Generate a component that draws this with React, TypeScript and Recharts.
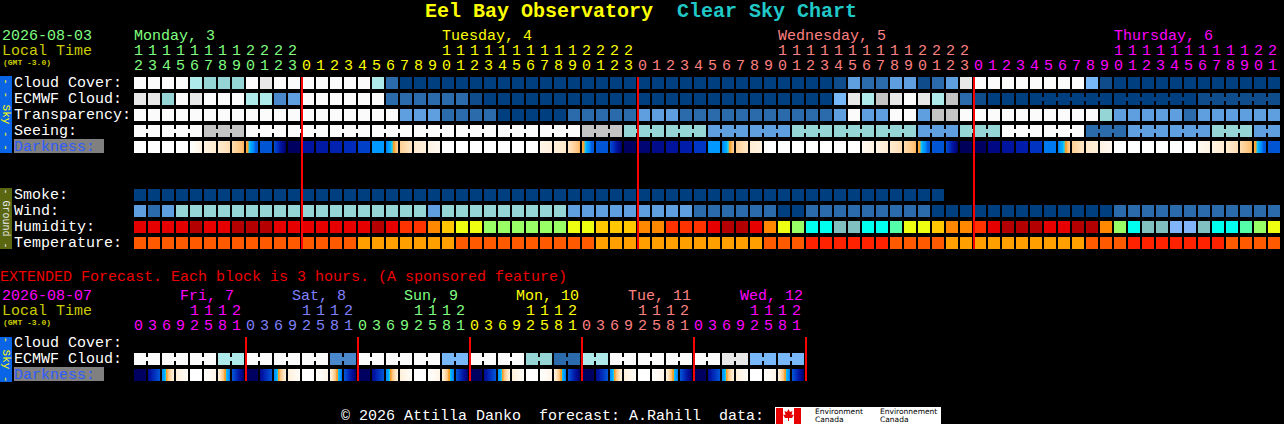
import { Scatter, ScatterChart, XAxis, YAxis } from "recharts";

const FONT = '"Liberation Mono", "DejaVu Sans Mono", monospace';

// ---- colour scales (CSC style) ----
// sky scale: 0 = clear / excellent (dark blue) ... 10 = overcast / poor (white)
const SKY_COLORS = [
  "#003f7f",
  "#0f4c8c",
  "#2b6aab",
  "#4a88cb",
  "#5f9fdf",
  "#78b8f8",
  "#96d5d5",
  "#aeeaea",
  "#c4c4c4",
  "#e8e8e8",
  "#fbfbfb",
];
const HUMIDITY_COLORS = [
  "#b40000", "#e60000", "#ff3300", "#ff8800", "#ffc800", "#eeff11",
  "#99ff66", "#55ffaa", "#00ffee", "#80c0c0", "#82b4fa",
];
const TEMPERATURE_COLORS = ["#ff2200", "#ff5a00", "#ffa000"];

// darkness: 0 = daylight, ~3.5 = sunset, 10+ = full dark
const DARK_STOPS: [number, string][] = [
  [0, "#ffffff"],
  [1, "#fff3e2"],
  [2, "#ffe2bc"],
  [3, "#ffc27a"],
  [3.4, "#f5a535"],
  [3.8, "#f09a20"],
  [3.85, "#20d0f0"],
  [4.3, "#00b0ff"],
  [5, "#0090ff"],
  [5.6, "#0060e0"],
  [6.5, "#0050d0"],
  [7.5, "#0030c0"],
  [8.5, "#0014a0"],
  [9.5, "#000880"],
  [10, "#000060"],
  [11, "#000040"],
];

// ---- main forecast (1 block = 1 hour) ----
const mainDays = [
  { name: "Monday, 3", color: "#80ff80", firstHour: 12, hours: 12 },
  { name: "Tuesday, 4", color: "#ffff00", firstHour: 0, hours: 24 },
  { name: "Wednesday, 5", color: "#ff8080", firstHour: 0, hours: 24 },
  { name: "Thursday, 6", color: "#ff00ff", firstHour: 0, hours: 22 },
];

const mainRowLabels = [
  "Cloud Cover:", "ECMWF Cloud:", "Transparency:", "Seeing:", "Darkness:",
  "Smoke:", "Wind:", "Humidity:", "Temperature:",
];
const mainRowSlots = [0, 1, 2, 3, 4, 7, 8, 9, 10];

const cloudCover = [
  10, 10, 10, 10, 7, 6, 6, 6, 10, 9, 10, 10,
  10, 10, 10, 10, 10, 7, 2, 0, 0, 0, 0, 0,
  0, 0, 0, 0, 0, 0, 0, 0, 0, 0, 0, 0,
  0, 0, 0, 0, 0, 0, 0, 0, 0, 0, 0, 0,
  0, 0, 1, 4, 2, 2, 4, 4, 1, 2, 4, 9,
  10, 10, 10, 10, 10, 10, 10, 10, 5, 1, 0, 0,
  0, 0, 0, 0, 0, 0, 0, 0, 0, 0,
];
const ecmwfCloud = [
  9, 9, 6, 10, 9, 10, 10, 10, 7, 7, 3, 4,
  10, 10, 10, 10, 10, 10, 2, 2, 2, 2, 2, 2,
  1, 0, 0, 0, 0, 0, 0, 0, 0, 0, 0, 0,
  0, 0, 0, 0, 0, 0, 0, 0, 0, 0, 0, 0,
  0, 0, 5, 9, 7, 8, 9, 10, 9, 7, 8, 2,
  1, 0, 0, 0, 0, 0, 0, 0, 0, 0, 0, 0,
  0, 0, 0, 0, 1, 1, 1, 1, 1, 1,
];
const transparency = [
  10, 10, 10, 10, 10, 10, 10, 10, 10, 10, 10, 10,
  10, 10, 10, 10, 10, 10, 10, 4, 4, 4, 2, 2,
  2, 2, 0, 0, 0, 0, 0, 2, 2, 2, 2, 2,
  4, 4, 4, 2, 2, 2, 2, 2, 2, 2, 2, 2,
  2, 2, 4, 10, 4, 4, 10, 10, 4, 8, 8, 10,
  10, 10, 10, 10, 10, 10, 10, 10, 10, 6, 4, 4,
  4, 4, 4, 2, 4, 4, 4, 4, 4, 4,
];
const seeing = [
  10, 10, 10, 10, 10, 8, 8, 8, 10, 10, 10, 10,
  10, 10, 10, 10, 10, 10, 10, 10, 10, 10, 10, 10,
  10, 10, 10, 10, 10, 10, 10, 10, 8, 8, 8, 6,
  6, 6, 6, 6, 6, 4, 4, 4, 4, 4, 4, 6,
  6, 6, 6, 6, 6, 6, 6, 6, 4, 4, 4, 6,
  6, 6, 10, 10, 10, 10, 10, 10, 2, 2, 2, 4,
  4, 4, 4, 4, 4, 6, 6, 6, 4, 4,
];
// single number = even shade for the hour, pair = shade at start / end of the hour
const darkness: (number | [number, number])[] = [
  0, 0, 0, 0, [0, 1], [1, 1.5], [1.5, 2.2], [2.2, 3.2], [3.2, 6.2], 6.2, [6.5, 10], 10,
  8.5, 8.3, 8.0, 7.7, 7.0, 4.8, [5.3, 2.6], [2.6, 1.8], [1.6, 1.1], [1, 0.5], 0, 0,
  0, 0, 0, 0, 0, [0.8, 1.2], [1.2, 1.6], [1.8, 3.2], [3.2, 6.2], 6.2, [6.5, 10], 10,
  9.7, 9.2, 8.6, 8.2, 7.3, 4.8, [5.3, 2.6], [2.6, 1.8], [1.4, 1], 0, 0, 0,
  0, 0, 0, 0, [0.5, 1], [1, 1.4], [1.5, 2.2], [2.2, 3.2], [3.2, 6.2], 6.2, [6.5, 10], 10.2,
  10, 9.4, 8.6, 8.2, 7.4, 5.3, [5.3, 2.6], [2.6, 1.8], [1.6, 1.2], [1, 0.5], 0, 0,
  0, 0, 0, 0, [0.5, 1], [1, 1.4], [1.5, 2.2], [2.2, 3.2], [3.2, 6.2], 6.2,
];
const smoke = [
  0, 0, 0, 0, 0, 0, 0, 0, 0, 0, 0, 0,
  0, 0, 0, 0, 0, 0, 0, 0, 0, 0, 0, 0,
  0, 0, 0, 0, 0, 0, 0, 0, 0, 0, 0, 0,
  0, 0, 0, 0, 0, 0, 0, 0, 0, 0, 0, 0,
  0, 0, 0, 0, 0, 0, 0, 0, 0, 0,
];
const wind = [
  4, 2, 4, 6, 6, 6, 6, 6, 6, 6, 6, 6,
  6, 6, 6, 6, 6, 6, 6, 6, 6, 4, 6, 6,
  6, 6, 6, 6, 6, 6, 6, 4, 4, 4, 4, 4,
  4, 4, 4, 4, 2, 2, 2, 2, 2, 2, 0, 0,
  2, 2, 2, 2, 2, 2, 2, 2, 2, 0, 0, 0,
  0, 0, 0, 0, 0, 0, 0, 0, 0, 0, 2, 2,
  2, 2, 2, 2, 2, 2, 2, 2, 2, 2,
];
const humidity = [
  1, 1, 1, 1, 0, 1, 1, 0, 0, 0, 1, 1,
  1, 1, 1, 1, 1, 0, 1, 2, 2, 3, 4, 5,
  5, 6, 6, 6, 6, 6, 6, 5, 5, 4, 4, 4,
  3, 3, 2, 2, 2, 1, 0, 0, 1, 3, 5, 6,
  8, 8, 9, 9, 8, 8, 7, 5, 5, 4, 3, 3,
  2, 1, 0, 0, 0, 1, 1, 0, 0, 3, 6, 8,
  9, 9, 10, 10, 9, 8, 8, 7, 6, 5,
];
const temperature = [
  1, 1, 1, 1, 1, 1, 1, 1, 1, 1, 1, 1,
  1, 1, 1, 1, 2, 2, 2, 2, 2, 2, 2, 1,
  1, 1, 1, 1, 1, 1, 1, 1, 1, 2, 2, 2,
  2, 2, 2, 2, 2, 2, 2, 2, 2, 1, 1, 1,
  0, 0, 0, 0, 0, 0, 1, 1, 1, 1, 2, 2,
  2, 2, 2, 2, 2, 2, 2, 2, 1, 1, 1, 0,
  0, 0, 0, 0, 0, 0, 1, 1, 1, 1,
];

// ---- extended forecast (1 block = 3 hours) ----
const extDays = [
  { name: "Fri, 7", color: "#ff00ff" },
  { name: "Sat, 8", color: "#8080ff" },
  { name: "Sun, 9", color: "#80ff80" },
  { name: "Mon, 10", color: "#ffff00" },
  { name: "Tue, 11", color: "#ff8080" },
  { name: "Wed, 12", color: "#ff00ff" },
];
const extHours = [0, 3, 6, 9, 12, 15, 18, 21];
const extRowLabels = ["Cloud Cover:", "ECMWF Cloud:", "Darkness:"];

const extEcmwf = [
  10, 10, 10, 10, 10, 10, 7, 7,
  10, 10, 10, 10, 10, 10, 3, 3,
  10, 10, 10, 10, 10, 10, 5, 5,
  10, 10, 10, 10, 6, 6, 2, 2,
  7, 7, 10, 10, 10, 10, 10, 10,
  10, 10, 9, 9, 5, 5, 5, 5,
];
const extDarkness: (number | [number, number])[] = [
  10, [9, 6.2], [5.2, 1.0], [1.2, 0.2], 0, [0, 0.8], [1.0, 5.4], [6.2, 10],
  10, [9, 6.2], [5.2, 1.0], [1.2, 0.2], 0, [0, 0.8], [1.0, 5.4], [6.2, 10],
  10, [9, 6.2], [5.2, 1.0], [1.2, 0.2], 0, [0, 0.8], [1.0, 5.4], [6.2, 10],
  10, [9, 6.2], [5.2, 1.0], [1.2, 0.2], 0, [0, 0.8], [1.0, 5.4], [6.2, 10],
  10, [9, 6.2], [5.2, 1.0], [1.2, 0.2], 0, [0, 0.8], [1.0, 5.4], [6.2, 10],
  10, [9, 6.2], [5.2, 1.0], [1.2, 0.2], 0, [0, 0.8], [1.0, 5.4], [6.2, 10],
];

// ---- helpers ----
type Col = { hour: number; day: number; label: boolean };
type Day = { name: string; color: string };

const mainCols: Col[] = [];
mainDays.forEach((d, di) => {
  for (let h = d.firstHour; h < d.firstHour + d.hours; h++) {
    mainCols.push({ hour: h, day: di, label: h === Math.max(d.firstHour, 10) });
  }
});
const mainMidnights: number[] = [];
mainDays.reduce((acc, d, i) => {
  if (i > 0) mainMidnights.push(acc);
  return acc + d.hours;
}, 0);

const extCols: Col[] = [];
extDays.forEach((_, di) => extHours.forEach((h, hi) => extCols.push({ hour: h, day: di, label: hi === 0 })));
const extMidnights = extDays.map((_, i) => (i + 1) * extHours.length);

const hexToRgb = (h: string) => {
  const n = parseInt(h.slice(1), 16);
  return [(n >> 16) & 255, (n >> 8) & 255, n & 255];
};

function darkColor(t: number) {
  if (t <= DARK_STOPS[0][0]) return DARK_STOPS[0][1];
  for (let i = 1; i < DARK_STOPS.length; i++) {
    if (t <= DARK_STOPS[i][0]) {
      const [t0, c0] = DARK_STOPS[i - 1];
      const [t1, c1] = DARK_STOPS[i];
      const f = (t - t0) / (t1 - t0);
      const a = hexToRgb(c0);
      const b = hexToRgb(c1);
      return `rgb(${a.map((v, k) => Math.round(v + (b[k] - v) * f)).join(",")})`;
    }
  }
  return DARK_STOPS[DARK_STOPS.length - 1][1];
}

const toPoints = (values: number[], row: number, link?: (c: number) => boolean) =>
  values.map((v, i) => ({
    x: i,
    y: row,
    v,
    link: !!link && i < values.length - 1 && values[i + 1] === v && link(i),
  }));

const toDarkPoints = (values: (number | [number, number])[], row: number) =>
  values.map((d, i) => ({ x: i, y: row, v: Array.isArray(d) ? d : [d, d] }));

// seeing comes in 3-hour groups, late ECMWF in 6-hour groups
const seeingLink = (c: number) => ((c - 2) % 3 + 3) % 3 !== 2;
const ecmwfLink = (c: number) => c >= 64 && (c - 64) % 6 !== 5;
const pairLink = (c: number) => c % 2 === 0;

const blockShape = (colors: string[]) => (p: any) => {
  const fill = colors[p.payload.v];
  return (
    <g>
      <rect x={p.cx} y={p.cy} width={12} height={12} fill={fill} />
      {p.payload.link && <rect x={p.cx + 12} y={p.cy + 4} width={2} height={4} fill={fill} />}
    </g>
  );
};

const darkShape = (prefix: string) => (p: any) => {
  const [a, b] = p.payload.v as [number, number];
  if (a === b) return <rect x={p.cx} y={p.cy} width={12} height={12} fill={darkColor(a)} />;
  const id = `${prefix}${p.payload.x}`;
  const lo = Math.min(a, b);
  const hi = Math.max(a, b);
  const inner = DARK_STOPS.map((s) => s[0]).filter((t) => t > lo && t < hi);
  const stops = [a, ...inner, b]
    .map((t) => ({ off: (t - a) / (b - a), col: darkColor(t) }))
    .sort((m, n) => m.off - n.off);
  return (
    <g>
      <defs>
        <linearGradient id={id} x1="0" y1="0" x2="1" y2="0">
          {stops.map((s, k) => (
            <stop key={k} offset={s.off} stopColor={s.col} />
          ))}
        </linearGradient>
      </defs>
      <rect x={p.cx} y={p.cy} width={12} height={12} fill={`url(#${id})`} />
    </g>
  );
};

// red midnight marker, drawn from the top row down through the plot
const midnightShape = (height: number) => (p: any) => (
  <rect x={p.cx - 1} y={p.cy} width={2} height={height} fill="#ff0000" />
);

const hourTick = (cols: Col[], days: Day[], labelDx: number) => (p: any) => {
  const c = cols[p.payload.value];
  if (!c) return <g />;
  const day = days[c.day];
  return (
    <g fontFamily={FONT} fontSize={15} fill={day.color}>
      {c.label && (
        <text x={p.x + labelDx} y={40}>
          {day.name}
        </text>
      )}
      {c.hour >= 10 && (
        <text x={p.x} y={55}>
          {Math.floor(c.hour / 10)}
        </text>
      )}
      <text x={p.x} y={70}>
        {c.hour % 10}
      </text>
    </g>
  );
};

const rowTick = (labels: string[], slots: number[]) => (p: any) => {
  const label = labels[slots.indexOf(p.payload.value)];
  const top = p.y;
  const dark = label === "Darkness:";
  return (
    <g fontFamily={FONT} fontSize={15}>
      {dark && <rect x={14} y={top - 2} width={90} height={14} fill="#808080" />}
      <text x={14} y={top + 10} fill={dark ? "#2f5cff" : "#ffffff"}>
        {label}
      </text>
    </g>
  );
};

function MainChart() {
  const blocks = [
    { key: "cloud", data: toPoints(cloudCover, 0), colors: SKY_COLORS },
    { key: "ecmwf", data: toPoints(ecmwfCloud, 1, ecmwfLink), colors: SKY_COLORS },
    { key: "transp", data: toPoints(transparency, 2), colors: SKY_COLORS },
    { key: "seeing", data: toPoints(seeing, 3, seeingLink), colors: SKY_COLORS },
    { key: "smoke", data: toPoints(smoke, 7), colors: SKY_COLORS },
    { key: "wind", data: toPoints(wind, 8), colors: SKY_COLORS },
    { key: "humidity", data: toPoints(humidity, 9), colors: HUMIDITY_COLORS },
    { key: "temp", data: toPoints(temperature, 10), colors: TEMPERATURE_COLORS },
  ];
  return (
    <ScatterChart width={1284} height={252} margin={{ top: 0, right: 2, bottom: 3, left: 0 }}>
      <XAxis
        type="number"
        dataKey="x"
        orientation="top"
        domain={[0, mainCols.length]}
        ticks={mainCols.map((_, i) => i)}
        interval={0}
        height={77}
        axisLine={false}
        tickLine={false}
        tick={hourTick(mainCols, mainDays, 0)}
      />
      <YAxis
        type="number"
        dataKey="y"
        domain={[0, 10.75]}
        reversed
        ticks={mainRowSlots}
        interval={0}
        width={134}
        axisLine={false}
        tickLine={false}
        tick={rowTick(mainRowLabels, mainRowSlots)}
      />
      {blocks.map((b) => (
        <Scatter key={b.key} data={b.data} shape={blockShape(b.colors)} isAnimationActive={false} />
      ))}
      <Scatter data={toDarkPoints(darkness, 4)} shape={darkShape("dkm")} isAnimationActive={false} />
      <Scatter
        data={mainMidnights.map((x) => ({ x, y: 0 }))}
        shape={midnightShape(172)}
        isAnimationActive={false}
      />
    </ScatterChart>
  );
}

function ExtendedChart() {
  return (
    <ScatterChart width={1284} height={164} margin={{ top: 0, right: 478, bottom: 43, left: 0 }}>
      <XAxis
        type="number"
        dataKey="x"
        orientation="top"
        domain={[0, extCols.length]}
        ticks={extCols.map((_, i) => i)}
        interval={0}
        height={77}
        axisLine={false}
        tickLine={false}
        tick={hourTick(extCols, extDays, 46)}
      />
      <YAxis
        type="number"
        dataKey="y"
        domain={[0, 2.75]}
        reversed
        ticks={[0, 1, 2]}
        interval={0}
        width={134}
        axisLine={false}
        tickLine={false}
        tick={rowTick(extRowLabels, [0, 1, 2])}
      />
      <Scatter data={toPoints(extEcmwf, 1, pairLink)} shape={blockShape(SKY_COLORS)} isAnimationActive={false} />
      <Scatter data={toDarkPoints(extDarkness, 2)} shape={darkShape("dke")} isAnimationActive={false} />
      <Scatter
        data={extMidnights.map((x) => ({ x, y: 0 }))}
        shape={midnightShape(44)}
        isAnimationActive={false}
      />
    </ScatterChart>
  );
}

function SideBar({ y, h, fill, color, text, size }: { y: number; h: number; fill: string; color: string; text: string; size: number }) {
  return (
    <g>
      <rect x={0} y={y} width={12} height={h} fill={fill} />
      <text
        transform={`translate(2.5,${y + h / 2}) rotate(90)`}
        textAnchor="middle"
        fontFamily={FONT}
        fontSize={size}
        fill={color}
        xmlSpace="preserve"
      >
        {text}
      </text>
    </g>
  );
}

function Overlay() {
  return (
    <svg width={1284} height={424} style={{ position: "absolute", left: 0, top: 0, pointerEvents: "none" }}>
      <g fontFamily={FONT} fontSize={20} fontWeight="bold">
        <text x={425} y={17} fill="#ffff00">
          Eel Bay Observatory
        </text>
        <text x={677} y={17} fill="#20c8c8">
          Clear Sky Chart
        </text>
      </g>

      <g fontFamily={FONT} fontSize={15}>
        <text x={2} y={40} fill="#80ff80">2026-08-03</text>
        <text x={2} y={55} fill="#cccc00">Local Time</text>
        <text x={0} y={281} fill="#ee0000">EXTENDED Forecast. Each block is 3 hours. (A sponsored feature)</text>
        <text x={2} y={300} fill="#ff00ff">2026-08-07</text>
        <text x={2} y={315} fill="#cccc00">Local Time</text>
        <g fill="#ffffff">
          <text x={341} y={420}>© 2026 Attilla Danko</text>
          <text x={539} y={420}>forecast: A.Rahill</text>
          <text x={719} y={420}>data:</text>
        </g>
      </g>
      <g fontFamily={FONT} fontSize={8} fontWeight="bold" fill="#cccc00">
        <text x={3} y={64.5}>(GMT -3.0)</text>
        <text x={3} y={324.5}>(GMT -3.0)</text>
      </g>

      <SideBar y={76} h={77} fill="#0a64e6" color="#ffff00" text="- - Sky - -" size={11} />
      <SideBar y={188} h={61} fill="#5a6610" color="#e8e8e8" text="- Ground -" size={10} />
      <SideBar y={337} h={45} fill="#0a64e6" color="#ffff00" text="- Sky -" size={11} />

      {/* data provider logo */}
      <g>
        <rect x={775} y={407} width={166} height={17} fill="#ffffff" />
        <rect x={776} y={408} width={7} height={16} fill="#e60000" />
        <rect x={794} y={408} width={7} height={16} fill="#e60000" />
        <polygon
          points="788.5,409 790,412 792.5,411 791.5,415 794,414.5 792,418 789,418 789,421 788,421 788,418 785,418 783,414.5 785.5,415 784.5,411 787,412"
          fill="#e60000"
        />
        <g fontFamily='"DejaVu Sans", sans-serif' fontSize={7.5} fill="#000000">
          <text x={815} y={414}>Environment</text>
          <text x={815} y={422}>Canada</text>
          <text x={880} y={414}>Environnement</text>
          <text x={880} y={422}>Canada</text>
        </g>
      </g>
    </svg>
  );
}

export default function App() {
  return (
    <div style={{ position: "relative", width: 1284, height: 424, background: "#000000", overflow: "hidden" }}>
      <style>{`body { margin: 0; background: #000000; }`}</style>
      <div style={{ position: "absolute", left: 0, top: 0 }}>
        <MainChart />
      </div>
      <div style={{ position: "absolute", left: 0, top: 260 }}>
        <ExtendedChart />
      </div>
      <Overlay />
    </div>
  );
}
